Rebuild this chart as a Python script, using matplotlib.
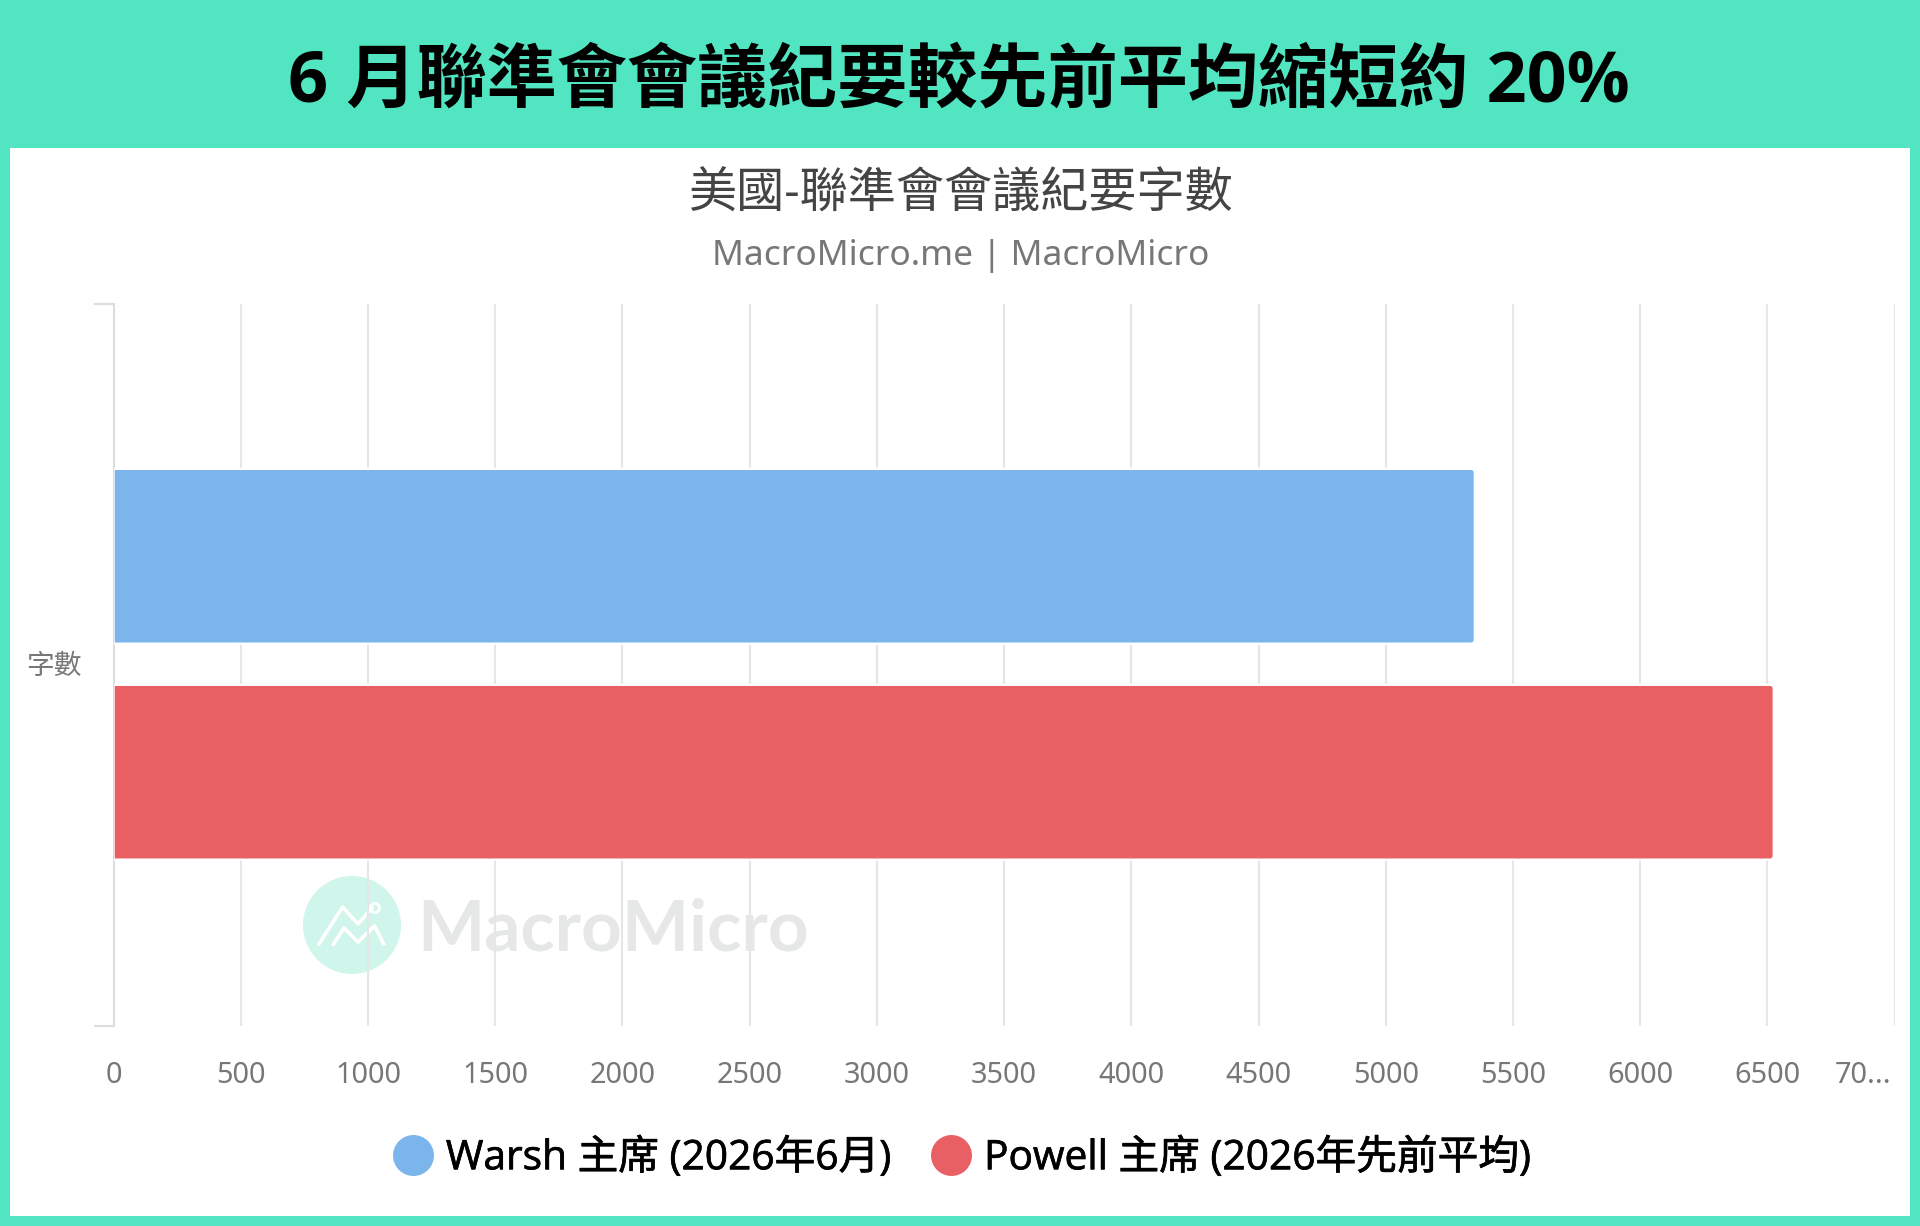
import matplotlib
matplotlib.use("Agg")
import matplotlib.pyplot as plt
import matplotlib.patheffects as pe
from matplotlib.patches import Rectangle, Circle
from matplotlib.path import Path
from matplotlib.lines import Line2D
from matplotlib.transforms import ScaledTranslation

TITLE = "6 月聯準會會議紀要較先前平均縮短約 20%"
SUBTITLE = "美國-聯準會會議紀要字數"
CREDIT = "MacroMicro.me | MacroMicro"
CATEGORY = "字數"
SERIES = ["Warsh 主席 (2026年6月)", "Powell 主席 (2026年先前平均)"]
VALUES = [5350, 6525]
COLORS = ["#7CB5EC", "#E86063"]
XTICKS = [0, 500, 1000, 1500, 2000, 2500, 3000, 3500, 4000, 4500, 5000, 5500, 6000, 6500, 7000]
XLABELS = ["0", "500", "1000", "1500", "2000", "2500", "3000", "3500", "4000", "4500", "5000", "5500", "6000", "6500", "70..."]

W, H = 1920, 1226
FONT = ["Noto Sans", "Noto Sans CJK TC", "DejaVu Sans"]
HEAVY = ["Open Sans", "Noto Sans CJK TC", "DejaVu Sans"]
plt.rcParams["font.family"] = FONT
GREEN = "#51E5C1"

fig = plt.figure(figsize=(W / 100, H / 100), dpi=100, facecolor=GREEN)

def fx(p): return p / W
def fy(p): return 1 - p / H

# white panel
fig.add_artist(Rectangle((fx(10), fy(1216)), fx(1900), (1216 - 148) / H,
                         transform=fig.transFigure, fc="white", ec="none", zorder=0))

ax = fig.add_axes([fx(113.6), fy(1026), (1894.6 - 113.6) / W, (1026 - 304) / H], facecolor="none")
ax.set_xlim(0, 7000)
ax.set_ylim(0.5, -0.5)
ax.set_zorder(2)

# bars
bar_h = 0.242
ypos = [-0.1506, 0.1485]
bars = ax.barh(ypos, VALUES, height=bar_h, color=COLORS, edgecolor="white", linewidth=1.6, zorder=3)
px_x = 1781 / 7000
px_y = 722
for bar, v in zip(bars, VALUES):
    rx = 4 / (v * px_x)
    ry = 4 / (bar_h * px_y)
    verts = [(0, 0), (1 - rx, 0), (1, 0), (1, ry), (1, 1 - ry), (1, 1), (1 - rx, 1), (0, 1), (0, 0)]
    codes = [Path.MOVETO, Path.LINETO, Path.CURVE3, Path.CURVE3, Path.LINETO,
             Path.CURVE3, Path.CURVE3, Path.LINETO, Path.CLOSEPOLY]
    rounded = Path(verts, codes)
    bar.get_path = (lambda p: (lambda: p))(rounded)

# axes furniture
for s in ["top", "right", "bottom"]:
    ax.spines[s].set_visible(False)
ax.spines["left"].set_color("#DDDDDD")
ax.spines["left"].set_linewidth(1.5)
ax.set_xticks(XTICKS)
ax.set_xticklabels(XLABELS, fontsize=20.8, color="#777777")
ax.tick_params(axis="x", length=0, pad=25.5)
last = ax.get_xticklabels()[-1]
last.set_ha("right")
last.set_transform(last.get_transform() + ScaledTranslation(-3 / 100, 0, fig.dpi_scale_trans))
ax.set_yticks([0])
ax.set_yticklabels([CATEGORY], fontsize=20, color="#777777")
ax.tick_params(axis="y", which="major", length=0, pad=23)
ylab = ax.get_yticklabels()[0]
ylab.set_transform(ylab.get_transform() + ScaledTranslation(0, 2 / 100, fig.dpi_scale_trans))
ax.set_yticks([-0.5, 0.5], minor=True)
ax.tick_params(axis="y", which="minor", length=14.4, width=1.5, color="#DDDDDD")
ax.xaxis.grid(True, color="#E6E6E6", linewidth=1.5, zorder=1)
ax.set_axisbelow(True)
ax.get_xgridlines()[0].set_visible(False)

# title block
fig.text(fx(959), fy(84), TITLE, fontsize=50.5, fontweight="bold", family=HEAVY, color="black", ha="center", va="center")
fig.text(fx(960.5), fy(195), SUBTITLE, fontsize=34.7, color="#444444", ha="center", va="center")
fig.text(fx(961), fy(256), CREDIT, fontsize=25.4, color="#777777", ha="center", va="center")

# watermark
fig.add_artist(Circle((352, H - 925), 49, transform=None, fc="#D0F6EC", ec="none", zorder=1))
zig1x = [319, 342.5, 358, 372]
zig1y = [944, 907, 924, 908]
zig2x = [333.6, 344, 358, 374.6, 383.6]
zig2y = [944, 928, 942, 926, 944]
fig.add_artist(Line2D([fx(a) for a in zig1x], [fy(b) for b in zig1y], color="white", lw=2.6, zorder=1))
fig.add_artist(Line2D([fx(a) for a in zig2x], [fy(b) for b in zig2y], color="white", lw=2.6, zorder=1))
fig.add_artist(Circle((375, H - 908), 4.5, transform=None, fc="none", ec="white", lw=2, zorder=1))
fig.text(fx(417), fy(930), "MacroMicro", fontsize=51.2, fontfamily="Lato", fontweight="bold",
         color="#E6E8E8", ha="left", va="center", zorder=1)

# legend
handles = [Line2D([], [], marker="o", ls="none", ms=29.5, mfc=c, mec="none") for c in COLORS]
leg = fig.legend(handles, SERIES, loc="center", bbox_to_anchor=(fx(960.5), fy(1159)), ncols=2, frameon=False,
                 prop={"family": HEAVY, "size": 29.3}, labelcolor="black",
                 handletextpad=0.2, columnspacing=0.85, handlelength=1.2)
for t in leg.get_texts():
    t.set_path_effects([pe.withStroke(linewidth=0.5, foreground="black")])

fig.savefig("out.png", dpi=100, facecolor=GREEN)
